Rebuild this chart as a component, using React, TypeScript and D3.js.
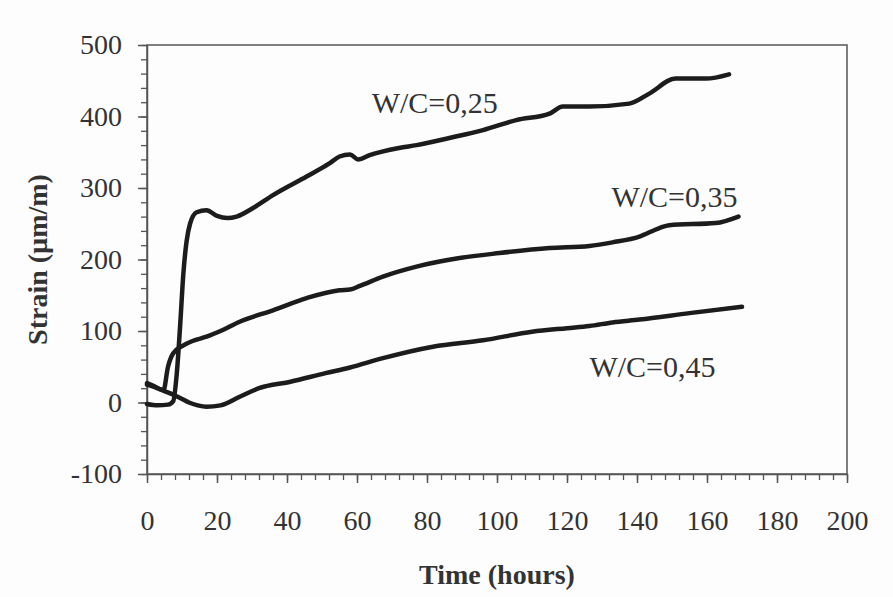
import { useEffect, useRef } from 'react';
import * as d3 from 'd3';

// W/C = 0,25
const time025 = [0, 3, 6, 7.5, 8.5, 9.5, 10.4, 11.3, 12.3, 14.2, 17, 20, 23, 25.6, 30.3, 36, 45.6, 52, 55, 58, 60.3, 63.6, 72, 77, 86.4, 96, 105.5, 115, 118.8, 126.4, 137.8, 143.5, 151, 159.7, 166.3];
const strain025 = [-2, -4, -3, 2, 40, 110, 181, 225, 250, 266, 269, 261, 258, 260, 272, 290, 316, 334, 344, 347, 340, 346, 356, 360, 370, 381, 395, 404, 414, 414, 418, 432, 453, 453, 459];

// W/C = 0,35
const time035 = [0, 2, 4, 4.7, 6, 7.5, 10.4, 13, 17, 21, 26.5, 36, 45.6, 55, 58, 60.8, 67.4, 77, 89.3, 100.7, 115, 126.4, 133, 140.7, 146.4, 149.2, 162.5, 169];
const strain035 = [27, 23, 18, 17, 50, 69, 80, 86, 92, 100, 113, 129, 146, 157, 158, 163, 176, 190, 202, 209, 216, 219, 224, 232, 244, 248, 251, 260];

// W/C = 0,45
const time045 = [0, 2, 5, 7.9, 10, 12, 14.5, 17, 21, 26.5, 32, 41, 51, 58, 67.4, 81.7, 96, 110, 120, 126.4, 133, 140.7, 155, 170];
const strain045 = [25, 22, 16, 10, 5, 0, -4, -6, -4, 8, 20, 29, 41, 49, 62, 78, 87, 99, 104, 107, 112, 116, 125, 134];

const seriesNames = ['W/C=0,25', 'W/C=0,35', 'W/C=0,45'];
const labelTime = [64.2, 132.7, 126.4];
const labelStrain = [405, 273, 36];

const xMajorTicks = [0, 20, 40, 60, 80, 100, 120, 140, 160, 180, 200];
const yMajorTicks = [-100, 0, 100, 200, 300, 400, 500];

export default function App() {
  const ref = useRef<SVGSVGElement>(null);

  useEffect(() => {
    if (!ref.current) return;
    const svg = d3.select(ref.current);
    svg.selectAll('*').remove();

    const width = 893;
    const height = 597;
    const margin = { top: 45, right: 46, bottom: 123, left: 147 };
    const font = '"Liberation Serif", "Times New Roman", serif';
    const axisColor = '#555';
    const textColor = '#333';

    const x = d3.scaleLinear().domain([0, 200]).range([margin.left, width - margin.right]);
    const y = d3.scaleLinear().domain([-100, 500]).range([height - margin.bottom, margin.top]);

    svg.append('rect').attr('width', width).attr('height', height).attr('fill', '#fdfdfd');

    // marco de la zona de trazado
    svg.append('rect')
      .attr('x', x(0)).attr('y', y(500))
      .attr('width', x(200) - x(0)).attr('height', y(-100) - y(500))
      .attr('fill', 'none').attr('stroke', axisColor).attr('stroke-width', 1.5);

    // ticks menores
    svg.append('g')
      .attr('transform', `translate(0,${y(-100)})`)
      .call(d3.axisBottom(x).tickValues(d3.range(0, 201, 4)).tickSize(6).tickFormat(() => ''))
      .call(g => g.select('.domain').remove())
      .selectAll('line').attr('stroke', axisColor).attr('stroke-width', 1.3);

    svg.append('g')
      .attr('transform', `translate(${x(0)},0)`)
      .call(d3.axisLeft(y).tickValues(d3.range(-100, 501, 20)).tickSize(6).tickFormat(() => ''))
      .call(g => g.select('.domain').remove())
      .selectAll('line').attr('stroke', axisColor).attr('stroke-width', 1.3);

    // ejes principales
    const xAxis = svg.append('g')
      .attr('transform', `translate(0,${y(-100)})`)
      .call(d3.axisBottom(x).tickValues(xMajorTicks).tickSize(9).tickSizeOuter(0).tickPadding(27));
    xAxis.select('.domain').attr('stroke', axisColor).attr('stroke-width', 1.5);
    xAxis.selectAll('line').attr('stroke', axisColor).attr('stroke-width', 1.5);
    xAxis.selectAll('text')
      .attr('font-family', font).attr('font-size', 28).attr('fill', textColor);

    const yAxis = svg.append('g')
      .attr('transform', `translate(${x(0)},0)`)
      .call(d3.axisLeft(y).tickValues(yMajorTicks).tickSize(9).tickSizeOuter(0).tickPadding(16)
        .tickFormat(d => String(d)));
    yAxis.select('.domain').attr('stroke', axisColor).attr('stroke-width', 1.5);
    yAxis.selectAll('line').attr('stroke', axisColor).attr('stroke-width', 1.5);
    yAxis.selectAll('text')
      .attr('font-family', font).attr('font-size', 28).attr('fill', textColor);

    // curvas
    const allTimes = [time025, time035, time045];
    const allStrains = [strain025, strain035, strain045];
    const line = d3.line<[number, number]>()
      .x(d => x(d[0]))
      .y(d => y(d[1]))
      .curve(d3.curveMonotoneX);

    allTimes.forEach((times, i) => {
      const pts = times.map((t, j) => [t, allStrains[i][j]] as [number, number]);
      svg.append('path')
        .attr('d', line(pts)!)
        .attr('fill', 'none')
        .attr('stroke', '#1c1c1c')
        .attr('stroke-width', 4.5)
        .attr('stroke-linejoin', 'round')
        .attr('stroke-linecap', 'round');
    });

    // etiquetas de las series
    seriesNames.forEach((name, i) => {
      svg.append('text')
        .attr('x', x(labelTime[i]))
        .attr('y', y(labelStrain[i]))
        .attr('font-family', font)
        .attr('font-size', 30)
        .attr('fill', textColor)
        .text(name);
    });

    // títulos de ejes
    svg.append('text')
      .attr('x', (x(0) + x(200)) / 2)
      .attr('y', 584)
      .attr('text-anchor', 'middle')
      .attr('font-family', font)
      .attr('font-weight', 'bold')
      .attr('font-size', 28)
      .attr('fill', textColor)
      .text('Time (hours)');

    svg.append('text')
      .attr('transform', `translate(47,${(y(500) + y(-100)) / 2}) rotate(-90)`)
      .attr('text-anchor', 'middle')
      .attr('font-family', font)
      .attr('font-weight', 'bold')
      .attr('font-size', 28)
      .attr('fill', textColor)
      .text('Strain (µm/m)');
  }, []);

  return (
    <div style={{ position: 'absolute', left: 0, top: 0 }}>
      <svg ref={ref} width={893} height={597} style={{ display: 'block' }} />
    </div>
  );
}
